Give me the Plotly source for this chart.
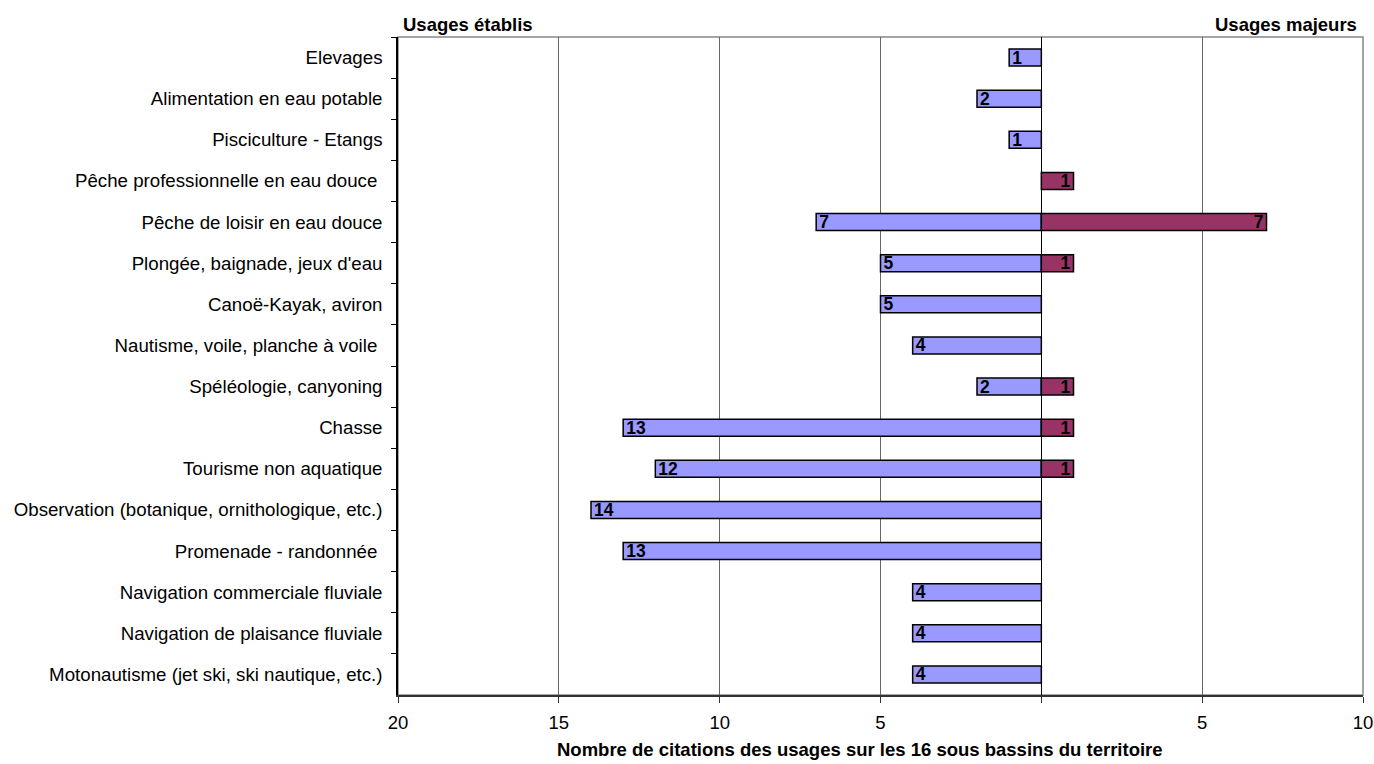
import plotly.graph_objects as go

categories = [
    "Elevages",
    "Alimentation en eau potable",
    "Pisciculture - Etangs",
    "Pêche professionnelle en eau douce\u00a0",
    "Pêche de loisir en eau douce",
    "Plongée, baignade, jeux d'eau",
    "Canoë-Kayak, aviron",
    "Nautisme, voile, planche à voile\u00a0",
    "Spéléologie, canyoning",
    "Chasse",
    "Tourisme non aquatique",
    "Observation (botanique, ornithologique, etc.)",
    "Promenade - randonnée\u00a0",
    "Navigation commerciale fluviale",
    "Navigation de plaisance fluviale",
    "Motonautisme (jet ski, ski nautique, etc.)",
]
usages_etablis = [1, 2, 1, 0, 7, 5, 5, 4, 2, 13, 12, 14, 13, 4, 4, 4]
usages_majeurs = [0, 0, 0, 1, 7, 1, 0, 0, 1, 1, 1, 0, 0, 0, 0, 0]

tick_vals = [-20, -15, -10, -5, 0, 5, 10]
tick_text = ["20", "15", "10", "5", "", "5", "10"]

FONT = "Arial, 'Liberation Sans', sans-serif"

x_etab = [-v if v else None for v in usages_etablis]
t_etab = [str(v) if v else "" for v in usages_etablis]
x_maj = [v if v else None for v in usages_majeurs]
t_maj = [str(v) if v else "" for v in usages_majeurs]

fig = go.Figure()
fig.add_trace(go.Bar(
    y=categories, x=x_etab, orientation="h", name="Usages établis",
    marker=dict(color="#9999FF", line=dict(color="#000000", width=1.5)),
    text=t_etab, textposition="inside", insidetextanchor="end",
    constraintext="none", textangle=0,
    textfont=dict(family=FONT, size=17.5, color="#000000", weight="bold"),
    width=0.415, hoverinfo="skip",
))
fig.add_trace(go.Bar(
    y=categories, x=x_maj, orientation="h", name="Usages majeurs",
    marker=dict(color="#993366", line=dict(color="#000000", width=1.5)),
    text=t_maj, textposition="inside", insidetextanchor="end",
    constraintext="none", textangle=0,
    textfont=dict(family=FONT, size=17.5, color="#000000", weight="bold"),
    width=0.415, hoverinfo="skip",
))

# plot frame (top/right grey border)
fig.add_shape(type="rect", xref="paper", yref="paper", x0=0, x1=1, y0=0, y1=1,
              line=dict(color="#888888", width=1.5), layer="below")

fig.update_layout(
    width=1374, height=764,
    margin=dict(l=398, r=11, t=37, b=69, autoexpand=False),
    paper_bgcolor="white", plot_bgcolor="white",
    barmode="relative", showlegend=False,
    font=dict(family=FONT, size=18.5, color="#000000"),
    xaxis=dict(
        range=[-20, 10], tickvals=tick_vals, ticktext=tick_text,
        automargin=False,
        showgrid=True, gridcolor="#666666", gridwidth=1,
        zeroline=True, zerolinecolor="#000000", zerolinewidth=1,
        showline=True, linecolor="#333333", linewidth=1.5,
        ticks="outside", ticklen=6, tickcolor="#333333",
        ticklabelstandoff=4,
        tickfont=dict(size=18.5),
    ),
    yaxis=dict(
        autorange="reversed", type="category", automargin=False,
        showgrid=False, zeroline=False,
        showline=True, linecolor="#000000", linewidth=1.5,
        ticks="outside", ticklen=5, tickcolor="#000000",
        tickson="boundaries", ticklabelstandoff=10,
        tickfont=dict(size=18.7),
    ),
    annotations=[
        dict(text="<b>Usages établis</b>", xref="paper", yref="paper",
             x=0.003, y=1.0, xanchor="left", yanchor="bottom", yshift=0,
             showarrow=False, font=dict(size=18.5)),
        dict(text="<b>Usages majeurs</b>", xref="paper", yref="paper",
             x=0.9955, y=1.0, xanchor="right", yanchor="bottom", yshift=0,
             showarrow=False, font=dict(size=18.5)),
        dict(text="<b>Nombre de citations des usages sur les 16 sous bassins du territoire</b>",
             xref="paper", yref="paper", x=0.479, y=0, xanchor="center",
             yanchor="top", yshift=-42, showarrow=False, font=dict(size=18.5)),
    ],
)

fig.write_html("out.html")
